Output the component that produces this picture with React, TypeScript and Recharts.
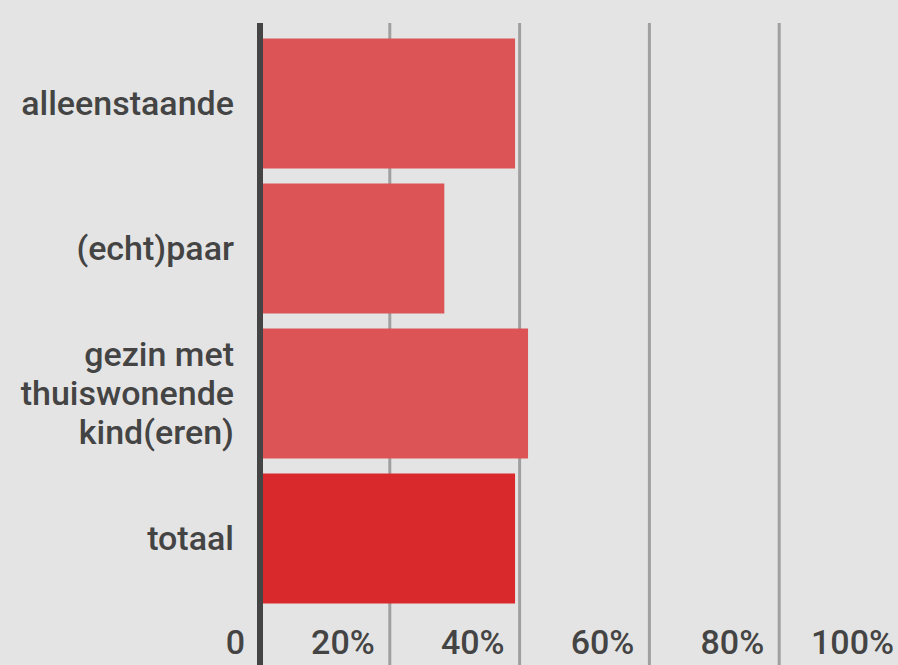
import React from 'react';
import { BarChart, Bar, XAxis, YAxis, CartesianGrid, Cell } from 'recharts';

// household types (explicit line breaks as in the source)
const categories = ['alleenstaande', '(echt)paar', 'gezin met\nthuiswonende\nkind(eren)', 'totaal'];
const values = [39.3, 28.4, 41.3, 39.3];
const barColors = ['#dc5456', '#dc5456', '#dc5456', '#d9292d'];
const xTicks = [0, 20, 40, 60, 80, 100];

const data = categories.map((name, i) => ({ name, value: values[i] }));

const FONT = 'Roboto, "Noto Sans", sans-serif';
const TEXT = '#444444';

const CategoryTick = (props: any) => {
  const { x, y, payload } = props;
  const lines = String(payload.value).split('\n');
  const lh = 39;
  const start = -((lines.length - 1) * lh) / 2;
  return (
    <text x={x} y={y} textAnchor="end" fill={TEXT} fontSize={34} fontWeight={500} fontFamily={FONT}>
      {lines.map((l, i) => (
        <tspan key={i} x={x} dy={i === 0 ? start + 12 : lh}>{l}</tspan>
      ))}
    </text>
  );
};

const ValueTick = (props: any) => {
  const { x, y, payload } = props;
  const label = payload.value === 0 ? '0' : `${payload.value}%`;
  return (
    <text x={x - 15} y={y - 11} textAnchor="end" fill={TEXT} fontSize={34} fontWeight={500} fontFamily={FONT}>
      {label}
    </text>
  );
};

export default function App() {
  return (
    <div style={{ position: 'fixed', left: 0, top: 0, width: 898, height: 665, overflow: 'hidden', background: '#e4e4e4' }}>
      <BarChart
        width={920}
        height={705}
        data={data}
        layout="vertical"
        margin={{ top: 23, right: 11, bottom: 0, left: 0 }}
      >
        <CartesianGrid horizontal={false} stroke="#a0a0a0" strokeWidth={3} />
        <Bar dataKey="value" barSize={130} isAnimationActive={false}>
          {data.map((d, i) => (
            <Cell key={d.name} fill={barColors[i]} />
          ))}
        </Bar>
        <XAxis
          type="number"
          domain={[0, 100]}
          ticks={xTicks}
          height={40}
          axisLine={false}
          tickLine={false}
          tickSize={0}
          tickMargin={0}
          tick={<ValueTick />}
          interval={0}
        />
        <YAxis
          type="category"
          dataKey="name"
          width={260}
          padding={{ top: 7.5, bottom: 54.5 }}
          axisLine={{ stroke: '#444444', strokeWidth: 6 }}
          tickLine={false}
          tickMargin={20}
          tick={<CategoryTick />}
          interval={0}
        />
      </BarChart>
    </div>
  );
}
